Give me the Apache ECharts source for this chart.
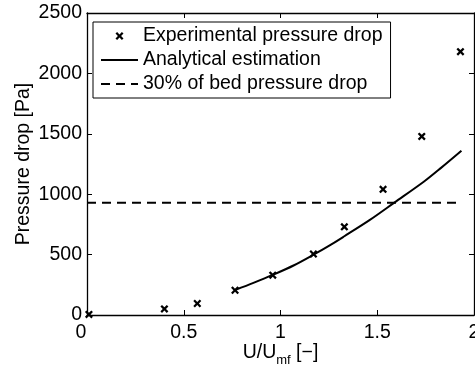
<!DOCTYPE html>
<html>
<head>
<meta charset="utf-8">
<script src="https://cdn.jsdelivr.net/npm/echarts@6/dist/echarts.min.js"></script>
<style>
  html, body { margin: 0; padding: 0; background: #fff; }
  #chart { width: 475px; height: 372px; }
</style>
</head>
<body>
<div id="chart"></div>
<script>
// Measured pressure drop vs. normalised gas velocity
const expVelocity = [0.01, 0.40, 0.57, 0.765, 0.96, 1.17, 1.33, 1.53, 1.73, 1.93];
const expPressure = [5, 50, 95, 205, 330, 505, 730, 1040, 1478, 2180];

// Analytical estimation curve
const anaVelocity = [0.765, 0.86, 0.96, 1.07, 1.175, 1.25, 1.33, 1.46, 1.59, 1.742, 1.828, 1.935];
const anaPressure = [207, 266, 332, 412, 503, 572, 652, 785, 932, 1105, 1216, 1360];

// 30 % of the bed pressure drop (horizontal reference)
const refVelocity = [0, 1.935];
const refPressure = [930, 930];

const seriesNames = ['Experimental pressure drop', 'Analytical estimation', '30% of bed pressure drop'];
const xTicks = { min: 0, max: 2, interval: 0.5 };
const yTicks = { min: 0, max: 2500, interval: 500 };

const FONT = 'Liberation Sans, Arial, Helvetica, sans-serif';
const FS = 19.5;
// bold "x" marker
const crossPath = 'path://M0,2L2,0L5,3L8,0L10,2L7,5L10,8L8,10L5,7L2,10L0,8L3,5Z';

const pairs = (xs, ys) => xs.map((x, i) => [x, ys[i]]);

const tickStyle = { show: true, inside: true, length: 5, lineStyle: { color: '#000', width: 1 } };
const lineStyle = { show: true, onZero: false, lineStyle: { color: '#000', width: 1.3 } };

const chart = echarts.init(document.getElementById('chart'), null, { renderer: 'canvas' });

chart.setOption({
  animation: false,
  backgroundColor: '#fff',
  textStyle: { fontFamily: FONT },
  grid: { left: 87, right: 1, top: 13, bottom: 57, containLabel: false, outerBoundsMode: 'none' },
  legend: {
    orient: 'vertical',
    left: 93,
    top: 22,
    backgroundColor: '#fff',
    borderColor: '#000',
    borderWidth: 1,
    borderRadius: 0,
    padding: [4, 8, 4, 7],
    itemWidth: 37,
    itemHeight: 8,
    itemGap: 4,
    textStyle: { fontFamily: FONT, fontSize: FS, color: '#000' },
    data: [
      { name: seriesNames[0] },
      { name: seriesNames[1], itemStyle: { opacity: 0 } },
      { name: seriesNames[2], itemStyle: { opacity: 0 } }
    ]
  },
  xAxis: [
    {
      type: 'value', position: 'bottom', ...xTicks,
      axisLine: lineStyle, axisTick: tickStyle, splitLine: { show: false },
      axisLabel: {
        fontFamily: FONT, fontSize: FS, color: '#000', margin: 8,
        formatter: v => (v === 0 ? '{z|0}' : String(v)),
        rich: { z: { fontFamily: FONT, fontSize: FS, color: '#000', padding: [0, 12, 0, 0] } }
      },
      name: '{n|U/U}{s|mf}{n| [\u2212]}',
      nameLocation: 'middle',
      nameGap: 23,
      nameMoveOverlap: false,
      nameTextStyle: {
        rich: {
          n: { fontFamily: FONT, fontSize: FS, color: '#000' },
          s: { fontFamily: FONT, fontSize: 13, color: '#000', verticalAlign: 'bottom', padding: [16, 0, 0, 0] }
        }
      }
    },
    {
      type: 'value', position: 'top', ...xTicks,
      axisLine: lineStyle, axisTick: tickStyle, axisLabel: { show: false }, splitLine: { show: false }
    }
  ],
  yAxis: [
    {
      type: 'value', position: 'left', ...yTicks,
      axisLine: lineStyle, axisTick: tickStyle, splitLine: { show: false },
      axisLabel: { fontFamily: FONT, fontSize: FS, color: '#000', margin: 5, formatter: v => String(v) },
      name: 'Pressure drop [Pa]',
      nameLocation: 'middle',
      nameGap: 53,
      nameMoveOverlap: false,
      nameTextStyle: { fontFamily: FONT, fontSize: FS, color: '#000' }
    },
    {
      type: 'value', position: 'right', ...yTicks,
      axisLine: lineStyle, axisTick: tickStyle, axisLabel: { show: false }, splitLine: { show: false }
    }
  ],
  series: [
    {
      name: seriesNames[0],
      type: 'scatter',
      data: pairs(expVelocity, expPressure),
      symbol: crossPath,
      symbolSize: 8,
      itemStyle: { color: '#000', opacity: 1 },
      z: 5
    },
    {
      name: seriesNames[1],
      type: 'line',
      data: pairs(anaVelocity, anaPressure),
      smooth: 0.3,
      symbol: 'none',
      lineStyle: { color: '#000', width: 2 },
      itemStyle: { color: '#000' }
    },
    {
      name: seriesNames[2],
      type: 'line',
      data: pairs(refVelocity, refPressure),
      symbol: 'none',
      lineStyle: { color: '#000', width: 2, type: [9, 6] },
      itemStyle: { color: '#000' }
    }
  ]
});
</script>
</body>
</html>
